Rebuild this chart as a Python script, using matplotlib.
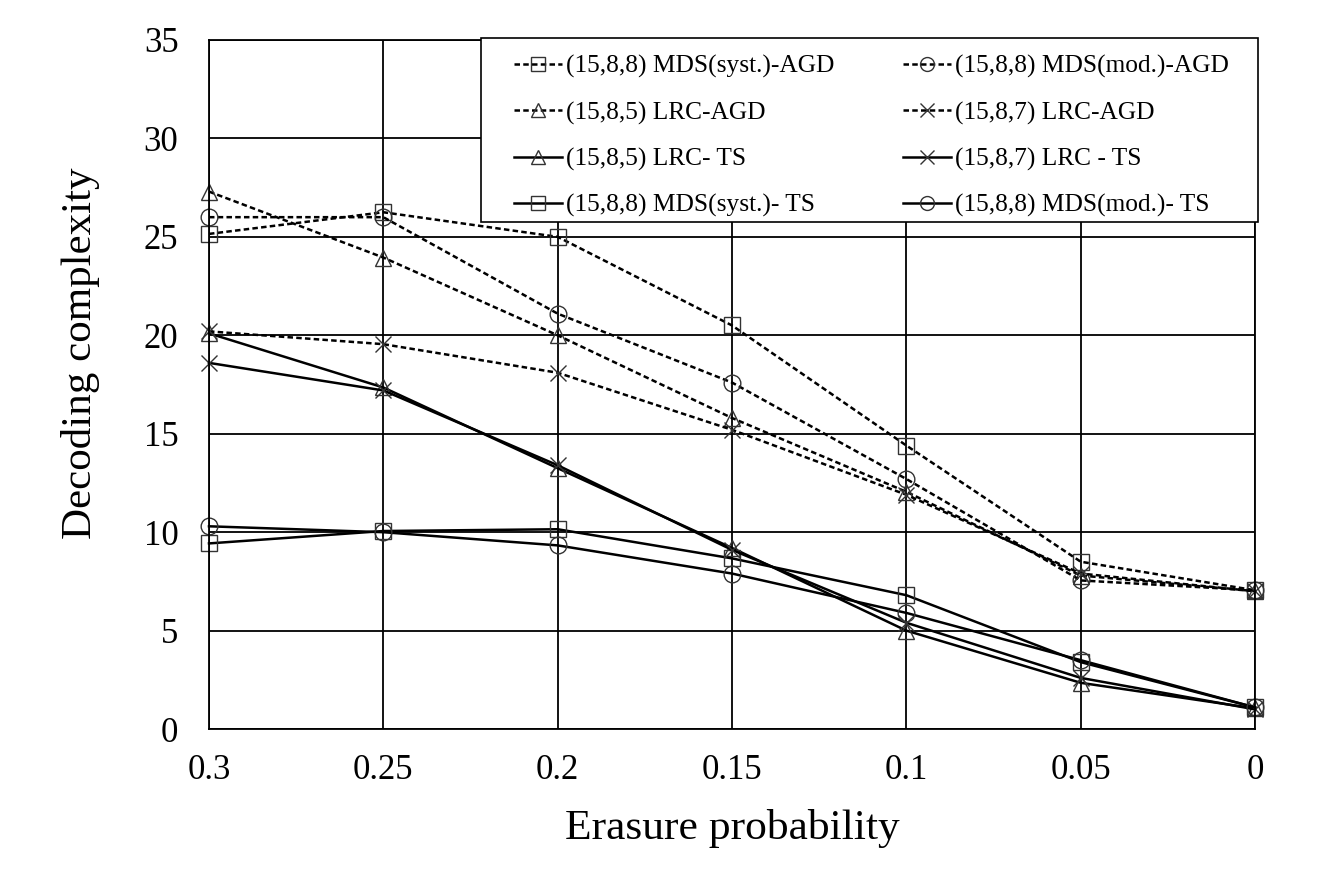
import matplotlib.pyplot as plt
from matplotlib.patches import Rectangle

plt.rcParams['font.family'] = ['Liberation Serif', 'DejaVu Serif']

erasure_prob = [0.3, 0.25, 0.2, 0.15, 0.1, 0.05, 0.0]

mds_syst_agd = [25.15, 26.25, 25.0, 20.5, 14.4, 8.5, 7.05]
mds_mod_agd = [26.0, 26.0, 21.1, 17.6, 12.7, 7.55, 7.05]
lrc585_agd = [27.3, 23.95, 20.0, 15.8, 12.05, 7.8, 7.0]
lrc587_agd = [20.2, 19.55, 18.1, 15.2, 11.9, 7.9, 7.0]
lrc585_ts = [20.1, 17.35, 13.25, 9.2, 5.0, 2.35, 1.05]
lrc587_ts = [18.6, 17.2, 13.4, 9.1, 5.4, 2.6, 1.0]
mds_syst_ts = [9.43, 10.06, 10.15, 8.67, 6.8, 3.4, 1.1]
mds_mod_ts = [10.3, 10.0, 9.33, 7.9, 5.9, 3.5, 1.1]

x_ticks = [0.3, 0.25, 0.2, 0.15, 0.1, 0.05, 0]
x_ticklabels = ['0.3', '0.25', '0.2', '0.15', '0.1', '0.05', '0']
y_ticks = [0, 5, 10, 15, 20, 25, 30, 35]

fig = plt.figure(figsize=(13.31, 8.69), dpi=100)
ax = fig.add_axes([0.157, 0.161, 0.786, 0.793])

dash = (0, (2.2, 1.3))
mk = dict(markersize=12, markerfacecolor='none', markeredgecolor='#333333',
          markeredgewidth=1.0, color='black', linewidth=1.8, clip_on=False)

# column-first order so the 2-column legend reads like the original
series = [
    (mds_syst_agd, 's', dash, '(15,8,8) MDS(syst.)-AGD'),
    (lrc585_agd, '^', dash, '(15,8,5) LRC-AGD'),
    (lrc585_ts, '^', '-', '(15,8,5) LRC- TS'),
    (mds_syst_ts, 's', '-', '(15,8,8) MDS(syst.)- TS'),
    (mds_mod_agd, 'o', dash, '(15,8,8) MDS(mod.)-AGD'),
    (lrc587_agd, 'x', dash, '(15,8,7) LRC-AGD'),
    (lrc587_ts, 'x', '-', '(15,8,7) LRC - TS'),
    (mds_mod_ts, 'o', '-', '(15,8,8) MDS(mod.)- TS'),
]

for vals, m, ls, lab in series:
    ax.plot(erasure_prob, vals, marker=m, linestyle=ls, label=lab, **mk)

ax.set_xlim(0.3, 0)
ax.set_ylim(0, 35)
ax.set_xticks(x_ticks)
ax.set_xticklabels(x_ticklabels)
ax.set_yticks(y_ticks)
ax.tick_params(length=0, labelsize=25)
ax.tick_params(axis='y', pad=22)
ax.tick_params(axis='x', pad=18)
ax.grid(True, color='black', linewidth=1.3)
ax.set_axisbelow(True)
for sp in ax.spines.values():
    sp.set_linewidth(1.3)

ax.set_xlabel('Erasure probability', fontsize=31.3, labelpad=16)
ax.set_ylabel('Decoding complexity', fontsize=31)
ax.yaxis.set_label_coords(-0.104, 0.546)

# legend frame drawn separately so the inner padding matches the original
box = Rectangle((0.26, 0.736), 0.743, 0.267, transform=ax.transAxes,
                facecolor='white', edgecolor='black', linewidth=1.2,
                zorder=5, clip_on=False)
ax.add_patch(box)

leg = ax.legend(ncol=2, loc='upper left', bbox_to_anchor=(0.2916, 0.978),
                fontsize=18.3, frameon=False, handlelength=1.9,
                columnspacing=2.7, labelspacing=0.91, borderpad=0,
                handletextpad=0.15, borderaxespad=0)
leg.set_zorder(6)
for h in leg.legend_handles:
    h.set_markersize(10)

fig.savefig('out.png', dpi=100, facecolor='white')
